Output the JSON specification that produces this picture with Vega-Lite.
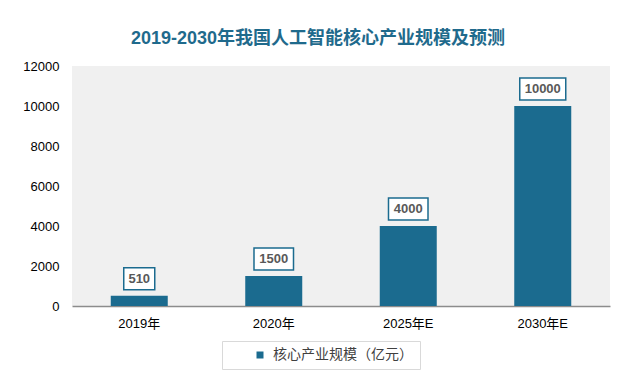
{
  "$schema": "https://vega.github.io/schema/vega-lite/v6.json",
  "width": 538,
  "height": 240,
  "autosize": {"type": "none"},
  "padding": {"left": 72, "top": 66, "right": 22, "bottom": 81},
  "background": "white",
  "title": {
    "text": "2019-2030年我国人工智能核心产业规模及预测",
    "fontSize": 18,
    "fontWeight": "bold",
    "color": "#1F6A8C",
    "font": "Liberation Sans, Noto Sans CJK SC",
    "anchor": "middle",
    "dx": -23,
    "offset": 12
  },
  "config": {
    "font": "Liberation Sans, Noto Sans CJK SC",
    "view": {"fill": "#f0f0f0", "stroke": null}
  },
  "data": {
    "values": [
      {"year": "2019年", "value": 510, "series": "核心产业规模（亿元）"},
      {"year": "2020年", "value": 1500, "series": "核心产业规模（亿元）"},
      {"year": "2025年E", "value": 4000, "series": "核心产业规模（亿元）"},
      {"year": "2030年E", "value": 10000, "series": "核心产业规模（亿元）"}
    ]
  },
  "encoding": {
    "x": {
      "field": "year",
      "type": "nominal",
      "sort": null,
      "scale": {"padding": 0},
      "axis": {
        "title": null,
        "labelAngle": 0,
        "labelFontSize": 13,
        "labelColor": "#000000",
        "labelPadding": 11,
        "ticks": false,
        "domainColor": "#8c8c8c",
        "domainWidth": 1.5,
        "grid": false
      }
    },
    "y": {
      "field": "value",
      "type": "quantitative",
      "scale": {"domain": [0, 12000]},
      "axis": {
        "title": null,
        "format": "d",
        "values": [0, 2000, 4000, 6000, 8000, 10000, 12000],
        "labelFontSize": 13,
        "labelColor": "#000000",
        "labelPadding": 13,
        "ticks": false,
        "domain": false,
        "grid": false
      }
    }
  },
  "layer": [
    {
      "mark": {"type": "bar", "width": 57},
      "encoding": {
        "color": {
          "field": "series",
          "type": "nominal",
          "scale": {"range": ["#1B6B8F"]},
          "legend": {
            "title": null,
            "orient": "none",
            "legendX": 150,
            "legendY": 275,
            "strokeColor": "#d9d9d9",
            "fillColor": "white",
            "padding": 7,
            "symbolType": "square",
            "symbolSize": 49,
            "symbolOffset": 24,
            "labelFontSize": 14,
            "labelColor": "#404040",
            "labelOffset": 6
          }
        }
      }
    },
    {
      "mark": {
        "type": "point",
        "filled": true,
        "fill": "white",
        "stroke": "#1B6B8F",
        "strokeWidth": 1.5,
        "opacity": 1,
        "size": 2116,
        "yOffset": -17
      },
      "encoding": {
        "shape": {
          "field": "year",
          "type": "nominal",
          "legend": null,
          "scale": {
            "domain": ["2019年", "2020年", "2025年E", "2030年E"],
            "range": [
              "M-0.674,-0.478H0.674V0.478H-0.674Z",
              "M-0.859,-0.478H0.859V0.478H-0.859Z",
              "M-0.859,-0.478H0.859V0.478H-0.859Z",
              "M-1,-0.478H1V0.478H-1Z"
            ]
          }
        }
      }
    },
    {
      "mark": {
        "type": "text",
        "dy": -17,
        "baseline": "middle",
        "fontSize": 13,
        "fontWeight": "bold",
        "color": "#595959"
      },
      "encoding": {
        "text": {"field": "value", "type": "quantitative", "format": "d"}
      }
    }
  ]
}
